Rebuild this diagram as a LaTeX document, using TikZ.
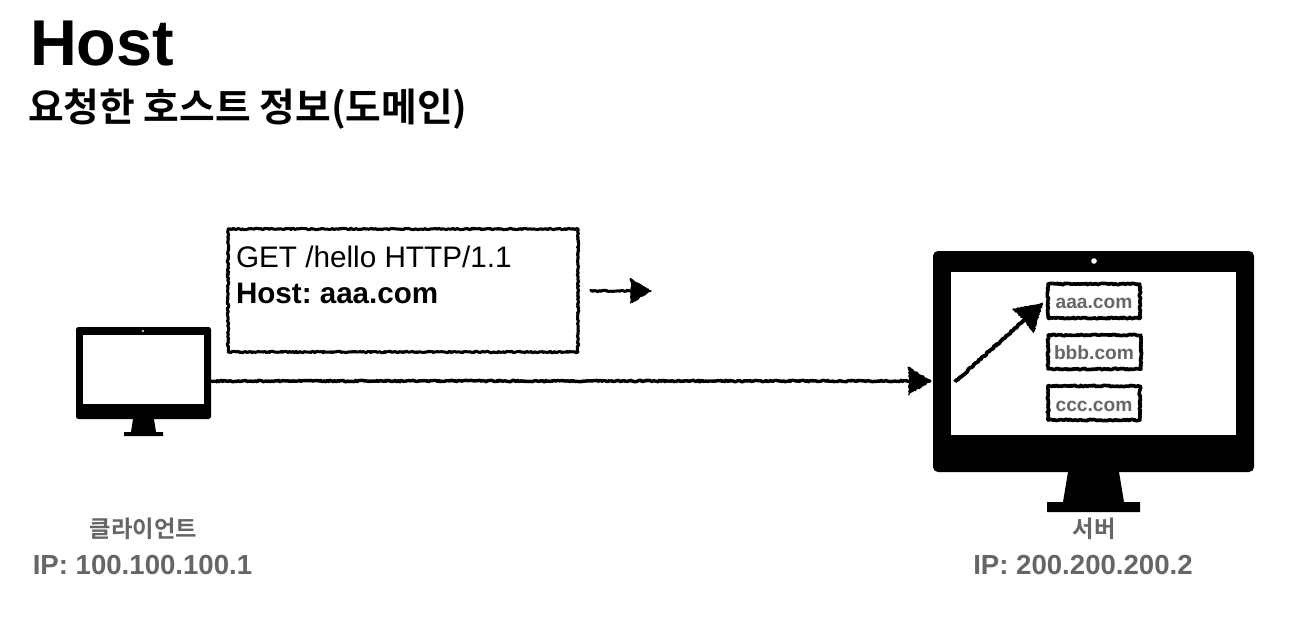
\documentclass[tikz,border=0pt]{standalone}
\usepackage{fontspec}
\setmainfont{Liberation Sans}
\newfontfamily\kr{Noto Sans CJK KR}[BoldFont={* Bold}]
\usetikzlibrary{arrows.meta,decorations.pathmorphing,calc}
\definecolor{gr}{HTML}{666666}
\definecolor{ink}{HTML}{000000}
\pgfmathsetseed{7}
\frenchspacing
\tikzset{
 x=1pt,y=-1pt,
 rough/.style={decorate,decoration={random steps,segment length=1.3pt,amplitude=.75pt}},
 roughbox/.style={draw=ink,line width=2.6pt,rough,fill=white,line join=round},
 roughline/.style={draw=ink,line width=3pt,rough,line join=round},
 txt/.style={inner sep=0,outer sep=0,anchor=base west,text=ink},
 gtxt/.style={inner sep=0,outer sep=0,anchor=base,text=gr,font=\bfseries},
 bodyfill/.style={fill=ink,draw=none},
}
\newcommand{\roughhead}[3]{% tip, angle, size
 \fill[ink,rough,decoration={amplitude=.7pt,segment length=1.5pt},shift={(#1)},rotate=#2] (0,0) -- (-#3,-.6*#3) -- (-.95*#3,0) -- (-#3,.6*#3) -- cycle;}
\begin{document}
\begin{tikzpicture}
\useasboundingbox (0,0) rectangle (1306,638);
\fill[white] (0,0) rectangle (1306,638);

% titles
\node[txt,font=\fontsize{64.8}{64.8}\selectfont\bfseries] (title) at (30,65) {Host};
\node[txt,font=\kr\fontsize{38.8}{38.8}\selectfont\bfseries] (sub) at (28,121) {요청한 호스트 정보(도메인)};

% client monitor
\fill[bodyfill,rounded corners=2.5pt] (76,327) rectangle (211,419);
\fill[white] (83,335) rectangle (204,404);
\fill[white] (143,331) circle (1.2);
\fill[bodyfill] (133,419) -- (154,419) -- (156,432) -- (163,432) -- (163,436) -- (124,436) -- (124,432) -- (131,432) -- cycle;
\node[inner sep=0,outer sep=0,minimum width=135pt,minimum height=92pt] (client) at (143.5,373) {};

% server monitor
\fill[bodyfill,rounded corners=5pt] (933,251) rectangle (1254,472);
\fill[white] (951,272) rectangle (1236,435);
\fill[white] (1094,261) circle (2.8);
\fill[bodyfill] (1068,472) -- (1119,472) -- (1124,502) -- (1140,502) -- (1140,512) -- (1047,512) -- (1047,502) -- (1063,502) -- cycle;
\node[inner sep=0,outer sep=0,minimum width=321pt,minimum height=221pt] (server) at (1093.5,361.5) {};

% message box
\draw[roughbox,line width=3pt] (228,229) rectangle (578,352);
\node[txt,font=\fontsize{29.7}{29.7}\selectfont] (l1) at (236,267) {GET /hello HTTP/1.1};
\node[txt,font=\fontsize{29.6}{29.6}\selectfont\bfseries] (l2) at (236,303) {Host: aaa.com};

% small arrow
\coordinate (sa) at (590,291);
\coordinate (sb) at (652,291);
\draw[roughline] (sa) -- ($(sb)+(-15,0)$);
\roughhead{sb}{0}{22}

% main arrow
\coordinate (mb) at (932,381);
\draw[roughline,line width=3.4pt] (client.east |- mb) -- ($(mb)+(-15,0)$);
\roughhead{mb}{0}{24}

% domain boxes
\draw[roughbox,line width=3.6pt] (1048,284) rectangle (1140,318);
\node[gtxt,font=\fontsize{19.2}{19.2}\selectfont\bfseries] (aaa) at (1094,308) {aaa.com};
\draw[roughbox,line width=3.6pt] (1048,335) rectangle (1141,369);
\node[gtxt,font=\fontsize{19.2}{19.2}\selectfont\bfseries] (bbb) at (1094,359) {bbb.com};
\draw[roughbox,line width=3.6pt] (1048,386) rectangle (1140,420);
\node[gtxt,font=\fontsize{19.2}{19.2}\selectfont\bfseries] (ccc) at (1094,411) {ccc.com};

% diagonal arrow
\coordinate (da) at (955,382);
\coordinate (db) at (1043,303);
\draw[roughline,line width=3.8pt] (da) -- ($(da)!0.85!(db)$);
\roughhead{db}{41.9}{27}

% labels
\node[gtxt,font=\kr\fontsize{23.3}{23.3}\selectfont\bfseries] (cname) at (143.5,537) {클라이언트};
\node[gtxt,font=\fontsize{27.6}{27.6}\selectfont\bfseries] (cip) at (142.5,574) {IP: 100.100.100.1};
\node[gtxt,font=\kr\fontsize{23.3}{23.3}\selectfont\bfseries] (sname) at (1094,537) {서버};
\node[gtxt,font=\fontsize{27.6}{27.6}\selectfont\bfseries] (sip) at (1083,574) {IP: 200.200.200.2};
\end{tikzpicture}
\end{document}
